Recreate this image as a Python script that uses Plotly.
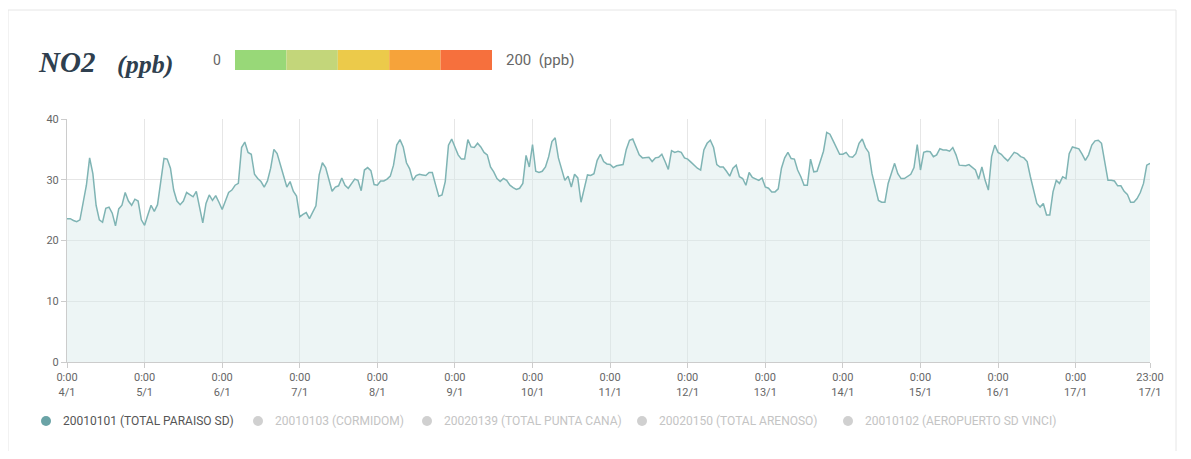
import pandas as pd
import plotly.graph_objects as go

start_date = "2021-01-04 00:00"
no2_values = [
    23.6, 23.6, 23.3, 23.1, 23.4, 26.4, 29.1, 33.6, 31.0, 25.8, 23.4, 23.0, 25.3, 25.5, 24.5, 22.4,
    25.2, 25.8, 27.9, 26.5, 25.8, 26.8, 26.5, 23.4, 22.5, 24.2, 25.8, 24.8, 25.9, 29.7, 33.5, 33.4,
    31.9, 28.3, 26.5, 25.9, 26.5, 27.9, 27.6, 27.2, 28.1, 25.5, 22.9, 26.1, 27.5, 26.6, 27.4, 26.3,
    25.1, 26.5, 27.9, 28.3, 29.1, 29.4, 35.3, 36.2, 34.5, 34.2, 30.9, 30.2, 29.7, 28.8, 29.8, 31.9,
    35.0, 34.3, 32.5, 30.6, 28.8, 29.7, 28.1, 27.3, 23.9, 24.3, 24.6, 23.6, 24.6, 25.7, 30.8, 32.8,
    32.0, 29.9, 28.1, 28.8, 29.0, 30.3, 29.1, 28.6, 29.4, 30.1, 29.9, 28.2, 31.6, 32.0, 31.5, 29.2,
    29.1, 29.8, 29.8, 30.1, 30.6, 32.4, 35.7, 36.6, 35.4, 32.8, 31.8, 29.9, 30.7, 30.9, 30.8, 30.7,
    31.2, 31.2, 29.2, 27.3, 27.5, 29.7, 35.7, 36.7, 35.4, 34.1, 33.4, 33.4, 36.6, 35.4, 35.3, 36.0,
    35.4, 34.5, 34.1, 32.1, 31.3, 30.2, 29.7, 30.2, 29.9, 29.1, 28.7, 28.4, 28.6, 29.4, 34.0, 32.1,
    35.8, 31.4, 31.2, 31.4, 32.1, 33.8, 36.3, 36.9, 33.6, 31.9, 29.9, 30.6, 28.8, 30.9, 30.3, 26.3,
    28.8, 30.8, 30.7, 31.0, 33.2, 34.2, 33.0, 32.6, 32.5, 32.0, 32.3, 32.4, 32.5, 35.0, 36.5, 36.7,
    35.4, 34.1, 33.6, 33.6, 33.7, 33.0, 33.6, 33.7, 34.2, 33.0, 31.7, 34.8, 34.5, 34.7, 34.5, 33.6,
    33.4, 32.9, 32.4, 31.9, 31.6, 34.9, 36.0, 36.5, 35.3, 32.5, 32.1, 32.1, 31.4, 30.6, 31.9, 32.4,
    30.5, 30.2, 29.1, 31.2, 30.4, 30.1, 29.9, 30.3, 28.8, 28.6, 28.0, 28.0, 28.5, 31.9, 33.6, 34.5,
    33.5, 33.4, 31.6, 30.5, 29.1, 29.1, 33.4, 31.3, 31.4, 33.0, 34.7, 37.8, 37.5, 36.4, 35.3, 34.2,
    34.2, 34.5, 33.8, 33.7, 34.3, 36.0, 36.7, 35.3, 34.5, 31.0, 28.8, 26.6, 26.3, 26.3, 29.4, 31.0,
    32.7, 31.0, 30.2, 30.2, 30.5, 30.9, 32.0, 35.8, 31.6, 34.5, 34.7, 34.6, 33.8, 34.1, 35.1, 34.9,
    34.9, 34.7, 35.3, 34.1, 32.4, 32.3, 32.3, 32.5, 32.1, 31.6, 30.1, 32.1, 29.9, 28.3, 33.8, 35.7,
    34.5, 34.2, 33.6, 33.1, 33.8, 34.5, 34.3, 33.8, 33.6, 33.0, 30.5, 28.1, 26.1, 25.5, 26.1, 24.2,
    24.2, 28.0, 29.9, 29.4, 30.5, 30.2, 34.3, 35.4, 35.3, 35.1, 34.2, 33.2, 34.1, 35.7, 36.4, 36.5,
    36.0, 32.7, 29.9, 29.9, 29.8, 29.0, 29.0, 28.1, 27.6, 26.3, 26.3, 26.9, 27.9, 29.4, 32.4, 32.7,
]
y_ticks = [0, 10, 20, 30, 40]
day_labels = ["4/1", "5/1", "6/1", "7/1", "8/1", "9/1", "10/1", "11/1", "12/1",
              "13/1", "14/1", "15/1", "16/1", "17/1"]
series_names = [
    "20010101 (TOTAL PARAISO SD)",
    "20010103 (CORMIDOM)",
    "20020139 (TOTAL PUNTA CANA)",
    "20020150 (TOTAL ARENOSO)",
    "20010102 (AEROPUERTO SD VINCI)",
]
scale_colors = ["#98d878", "#c3d67a", "#ecca4a", "#f6a33a", "#f6703d"]

times = pd.date_range(start_date, periods=len(no2_values), freq="h")
tick_vals = list(pd.date_range(start_date, periods=len(day_labels), freq="D")) + [times[-1]]
tick_text = ["0:00<br>" + d for d in day_labels] + ["23:00<br>" + day_labels[-1]]

OFF = 8  # page body margin
W, H = 1175, 443
# plot area in screen pixels
L, R, T, B = 67, 1150, 119, 362


def px(x):
    return (x - L) / (R - L)


def py(y):
    return (B - y) / (B - T)


fig = go.Figure()
fig.add_trace(go.Scatter(
    x=times, y=no2_values, mode="lines",
    line=dict(color="#7fb4b4", width=1.5),
    fill="tozeroy", fillcolor="rgba(214,232,232,0.45)",
    name=series_names[0], showlegend=False, hoverinfo="x+y",
))

shapes = []
shapes.append(dict(type="rect", xref="paper", yref="paper",
                   x0=px(8), x1=px(1176), y0=py(470), y1=py(10),
                   line=dict(color="#e6e6e6", width=1), fillcolor="rgba(0,0,0,0)", layer="below"))
seg_w = (492 - 235) / len(scale_colors)
for i, c in enumerate(scale_colors):
    shapes.append(dict(type="rect", xref="paper", yref="paper",
                       x0=px(235 + i * seg_w), x1=px(235 + (i + 1) * seg_w),
                       y0=py(70), y1=py(50), line=dict(width=0), fillcolor=c))

annotations = [
    dict(text="<b><i>NO2</i></b>", x=px(36), y=py(62), xref="paper", yref="paper",
         xanchor="left", yanchor="middle", showarrow=False,
         font=dict(family="Liberation Serif", size=29, color="#2f3f4f")),
    dict(text="<b><i>(ppb)</i></b>", x=px(115), y=py(64), xref="paper", yref="paper",
         xanchor="left", yanchor="middle", showarrow=False,
         font=dict(family="Liberation Serif", size=26, color="#2f3f4f")),
    dict(text="0", x=px(223), y=py(60), xref="paper", yref="paper",
         xanchor="right", yanchor="middle", showarrow=False,
         font=dict(family="Roboto", size=14, color="#666")),
    dict(text="200  (ppb)", x=px(504), y=py(60), xref="paper", yref="paper",
         xanchor="left", yanchor="middle", showarrow=False,
         font=dict(family="Roboto", size=15, color="#666")),
]

legend_x = [46, 258, 427, 642, 848]
for i, (name, lx) in enumerate(zip(series_names, legend_x)):
    active = i == 0
    shapes.append(dict(type="circle", xref="paper", yref="paper",
                       x0=px(lx - 5), x1=px(lx + 5), y0=py(426), y1=py(416),
                       line=dict(width=0), fillcolor="#6aa3a6" if active else "#d0d0d0"))
    annotations.append(dict(text=name, x=px(lx + 15), y=py(421), xref="paper", yref="paper",
                            xanchor="left", yanchor="middle", showarrow=False,
                            font=dict(family="Roboto", size=12,
                                      color="#555" if active else "#c4c4c4")))

fig.update_layout(
    width=W, height=H,
    margin=dict(l=L - OFF, r=W - (R - OFF), t=T - OFF, b=H - (B - OFF), pad=0),
    paper_bgcolor="white", plot_bgcolor="white",
    shapes=shapes, annotations=annotations, showlegend=False,
    font=dict(family="Roboto", size=11, color="#666"),
)
fig.update_xaxes(
    range=[times[0], times[-1]], tickvals=tick_vals, ticktext=tick_text,
    showgrid=True, gridcolor="#e6e6e6", gridwidth=1,
    showline=True, linecolor="#cccccc", ticks="outside", ticklen=5, tickcolor="#cccccc",
    tickfont=dict(family="Roboto", size=11, color="#666"), zeroline=False,
)
fig.update_yaxes(
    range=[0, 40], tickvals=y_ticks,
    showgrid=True, gridcolor="#e6e6e6", gridwidth=1,
    showline=True, linecolor="#cccccc", ticks="outside", ticklen=5, tickcolor="#cccccc",
    tickfont=dict(family="Roboto", size=11, color="#666"), zeroline=False,
)

fig.write_html("out.html")
